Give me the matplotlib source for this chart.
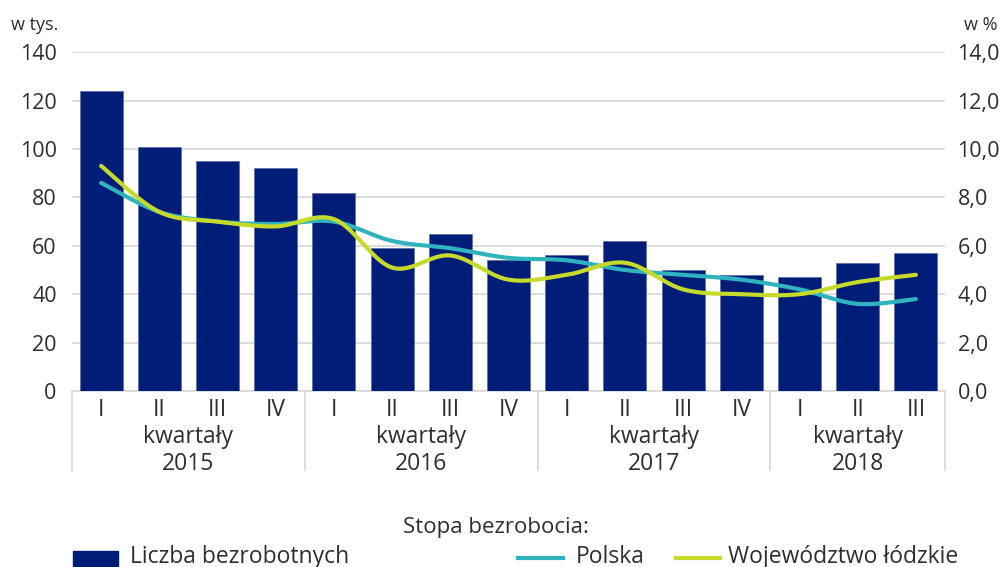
import numpy as np
import matplotlib
matplotlib.use("Agg")
import matplotlib.pyplot as plt
from matplotlib.transforms import blended_transform_factory
from matplotlib.patches import Rectangle
from matplotlib.lines import Line2D

plt.rcParams['font.family'] = ['Open Sans', 'DejaVu Sans']

# ---- data ----
quarters = ["I", "II", "III", "IV", "I", "II", "III", "IV", "I", "II", "III", "IV", "I", "II", "III"]
years = ["2015", "2016", "2017", "2018"]
year_counts = [4, 4, 4, 3]
unemployed_thous = [124, 101, 95, 92, 82, 59, 65, 54, 56, 62, 50, 48, 47, 53, 57]
rate_poland = [8.6, 7.4, 7.0, 6.9, 7.0, 6.2, 5.9, 5.5, 5.4, 5.0, 4.8, 4.6, 4.2, 3.6, 3.8]
rate_lodzkie = [9.3, 7.4, 7.0, 6.8, 7.1, 5.1, 5.6, 4.6, 4.8, 5.3, 4.2, 4.0, 4.0, 4.5, 4.8]
left_ticks = [0, 20, 40, 60, 80, 100, 120, 140]
right_ticks = [0, 2, 4, 6, 8, 10, 12, 14]

NAVY = "#001E78"
TEAL = "#2EB3BF"
LIME = "#C5DA2A"
GRID = "#D9D9D9"
TXT = "#2E2E2E"


def smooth(xs, ys, n=30):
    """Excel-like smoothing: cubic Bezier with Catmull-Rom control points."""
    P = np.column_stack([xs, ys]).astype(float)
    m = len(P)
    out = []
    for i in range(m - 1):
        p0 = P[i - 1] if i > 0 else P[i]
        p1 = P[i]
        p2 = P[i + 1]
        p3 = P[i + 2] if i + 2 < m else P[i + 1]
        c1 = p1 + (p2 - p0) / 6.0
        c2 = p2 - (p3 - p1) / 6.0
        t = np.linspace(0, 1, n)[:, None]
        seg = ((1 - t) ** 3) * p1 + 3 * ((1 - t) ** 2) * t * c1 + 3 * (1 - t) * t ** 2 * c2 + t ** 3 * p2
        out.append(seg if i == 0 else seg[1:])
    s = np.vstack(out)
    return s[:, 0], s[:, 1]


fig = plt.figure(figsize=(10, 5.67), dpi=100)
ax = fig.add_axes([0.072, 0.3104, 0.873, 0.5976])
x = np.arange(len(unemployed_thous))

ax.bar(x, unemployed_thous, width=0.74, color=NAVY, edgecolor="#5a6aa8", linewidth=0.5, zorder=3)
ax.set_xlim(-0.5, len(x) - 0.5)
ax.set_ylim(0, 140)
ax.set_yticks(left_ticks)
ax.set_yticklabels([str(v) for v in left_ticks])
ax.yaxis.grid(True, color=GRID, linewidth=1.3, zorder=0)
ax.set_axisbelow(True)
for sp in ["top", "right", "left"]:
    ax.spines[sp].set_visible(False)
ax.spines["bottom"].set_color(GRID)
ax.spines["bottom"].set_linewidth(1.3)
ax.tick_params(axis="y", length=0, pad=11, labelsize=15.5, labelcolor=TXT)
ax.set_xticks([])

ax2 = ax.twinx()
ax2.set_ylim(0, 14)
ax2.set_yticks(right_ticks)
ax2.set_yticklabels([f"{v:.1f}".replace(".", ",") for v in right_ticks])
ax2.tick_params(axis="y", length=0, pad=9, labelsize=15.5, labelcolor=TXT)
for sp in ax2.spines.values():
    sp.set_visible(False)

sx, sy = smooth(x, rate_poland)
ax2.plot(sx, sy, color=TEAL, lw=3.0, solid_capstyle="round", zorder=4)
sx, sy = smooth(x, rate_lodzkie)
ax2.plot(sx, sy, color=LIME, lw=3.0, solid_capstyle="round", zorder=5)

# category labels
tr = blended_transform_factory(ax.transData, ax.transAxes)
for i, q in enumerate(quarters):
    ax.text(i, -0.0737, q, transform=tr, ha="center", va="baseline", fontsize=16.5, color=TXT)
start = 0
bounds = [-0.5]
for yr, cnt in zip(years, year_counts):
    c = start + (cnt - 1) / 2.0
    ax.text(c, -0.1534, "kwartały", transform=tr, ha="center", va="baseline", fontsize=16.5, color=TXT)
    ax.text(c, -0.233, yr, transform=tr, ha="center", va="baseline", fontsize=16.5, color=TXT)
    start += cnt
    bounds.append(start - 0.5)
for b in bounds:
    ax.plot([b, b], [0, -0.233], transform=tr, color=GRID, lw=1.3, clip_on=False)

# unit labels
fig.text(58 / 1000, 1 - 30 / 567, "w tys.", ha="right", va="baseline", fontsize=13, color=TXT)
fig.text(997 / 1000, 1 - 30 / 567, "w %", ha="right", va="baseline", fontsize=13, color=TXT)

# legend
fig.text(403 / 1000, 1 - 527 / 567, "Stopa bezrobocia:", ha="left", va="center", fontsize=16, color=TXT)
fig.patches.append(Rectangle((73 / 1000, 1 - 566 / 567), 45 / 1000, 15 / 567,
                             transform=fig.transFigure, color=NAVY, figure=fig))
fig.text(130 / 1000, 1 - 557 / 567, "Liczba bezrobotnych", ha="left", va="center", fontsize=16.5, color=TXT)
fig.lines.append(Line2D([518 / 1000, 563 / 1000], [1 - 558 / 567] * 2, transform=fig.transFigure,
                        color=TEAL, lw=3, figure=fig))
fig.text(576 / 1000, 1 - 557 / 567, "Polska", ha="left", va="center", fontsize=16.5, color=TXT)
fig.lines.append(Line2D([676 / 1000, 720 / 1000], [1 - 558 / 567] * 2, transform=fig.transFigure,
                        color=LIME, lw=3, figure=fig))
fig.text(728 / 1000, 1 - 557 / 567, "Województwo łódzkie", ha="left", va="center", fontsize=16.5, color=TXT)

fig.savefig("out.png", dpi=100)
